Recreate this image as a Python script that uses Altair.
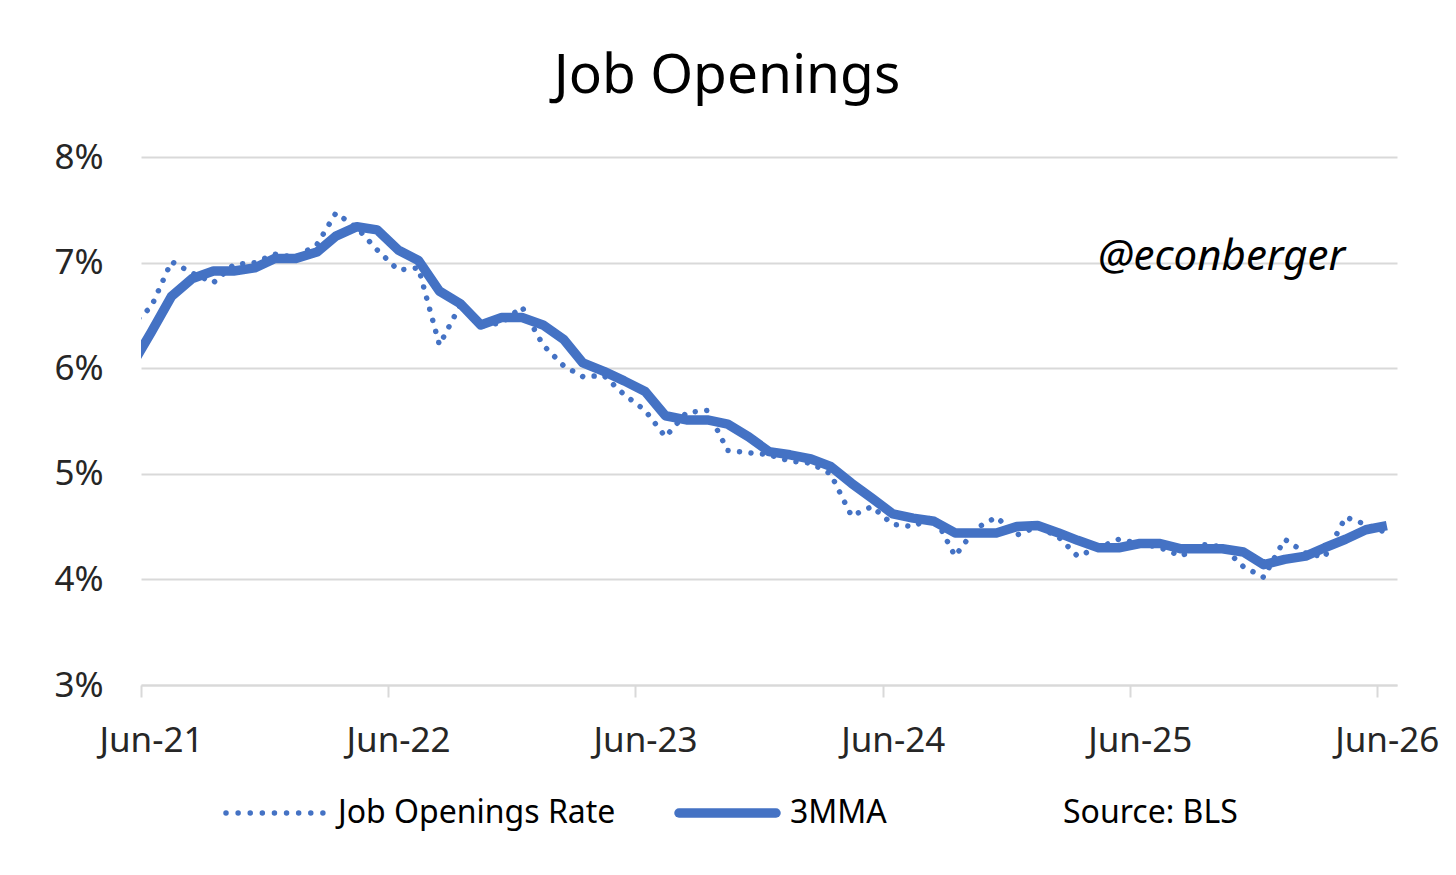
import altair as alt
import pandas as pd

# monthly observations, May-21 .. Jun-26 (first one sits just left of the axis and is clipped)
months = pd.date_range("2021-05-01", periods=62, freq="MS") + pd.Timedelta(days=15)

rate = [6.40, 6.58, 7.01, 6.90, 6.81, 6.98, 7.00, 7.08, 7.05, 7.17,
        7.47, 7.33, 7.12, 6.93, 6.95, 6.22, 6.60, 6.40, 6.43, 6.58,
        6.22, 6.02, 5.92, 5.93, 5.75, 5.60, 5.35, 5.58, 5.60, 5.22,
        5.20, 5.18, 5.12, 5.10, 5.00, 4.60, 4.69, 4.52, 4.50, 4.60,
        4.22, 4.48, 4.59, 4.42, 4.50, 4.40, 4.22, 4.30, 4.38, 4.34,
        4.30, 4.22, 4.33, 4.31, 4.12, 4.02, 4.38, 4.25, 4.21, 4.59,
        4.52, 4.44]

mma3 = [6.00, 6.34, 6.68, 6.85, 6.92, 6.92, 6.95, 7.04, 7.04, 7.10,
        7.25, 7.34, 7.31, 7.12, 7.02, 6.73, 6.61, 6.41, 6.48, 6.48,
        6.41, 6.27, 6.05, 5.97, 5.88, 5.78, 5.55, 5.51, 5.51, 5.47,
        5.35, 5.21, 5.18, 5.14, 5.07, 4.91, 4.77, 4.62, 4.58, 4.55,
        4.44, 4.44, 4.44, 4.50, 4.51, 4.44, 4.37, 4.30, 4.30, 4.34,
        4.34, 4.29, 4.29, 4.29, 4.26, 4.14, 4.19, 4.22, 4.30, 4.38,
        4.47, 4.51]

y_ticks = [3, 4, 5, 6, 7, 8]
tick_years = [2021, 2022, 2023, 2024, 2025, 2026]

BLUE = "#4472C4"
GRID = "#d9d9d9"
FONT = "Noto Sans"

df = pd.DataFrame({"month": months, "rate": rate, "mma": mma3})

x = alt.X("month:T", title=None,
          scale=alt.Scale(domain=[alt.DateTime(year=2021, month=6, date=1),
                                  alt.DateTime(year=2026, month=7, date=1)]),
          axis=alt.Axis(values=[alt.DateTime(year=yr, month=6, date=1) for yr in tick_years],
                        format="%b-%y", grid=False,
                        domainColor=GRID, domainWidth=2,
                        tickColor=GRID, tickWidth=2, tickSize=12,
                        labelFont=FONT, labelFontSize=35, labelColor="#262626",
                        labelOffset=10, labelBaseline="alphabetic", labelPadding=54,
                        labelFlush=False, labelOverlap=False))

y_scale = alt.Scale(domain=[3, 8], nice=False, zero=False)
y_axis = alt.Axis(values=y_ticks, labelExpr="datum.value + '%'",
                  grid=True, gridColor=GRID, gridWidth=2,
                  domain=False, ticks=False,
                  labelFont=FONT, labelFontSize=35, labelColor="#262626",
                  labelPadding=38)

base = alt.Chart(df)

dotted = base.mark_line(color=BLUE, strokeWidth=5.5, strokeDash=[0.01, 11.5],
                        strokeCap="round", clip=True).encode(
    x=x, y=alt.Y("rate:Q", title=None, scale=y_scale, axis=y_axis))

avg = base.mark_line(color=BLUE, strokeWidth=9.5, strokeJoin="round", clip=True).encode(
    x=x, y=alt.Y("mma:Q", scale=y_scale))

one = pd.DataFrame({"a": [0]})

title = alt.Chart(one).mark_text(text="Job Openings", font=FONT, fontSize=55,
                                 color="black", align="center", baseline="alphabetic").encode(
    x=alt.value(586), y=alt.value(-64))

handle = alt.Chart(one).mark_text(text="@econberger", font=FONT, fontSize=42,
                                  fontStyle="italic", color="black",
                                  align="left", baseline="alphabetic").encode(
    x=alt.value(957), y=alt.value(113))

leg_dot = alt.Chart(one).mark_rule(color=BLUE, strokeWidth=5.5, strokeDash=[0.01, 12.1],
                                   strokeCap="round").encode(
    x=alt.value(85), x2=alt.value(183), y=alt.value(656))

leg_line = alt.Chart(one).mark_rule(color=BLUE, strokeWidth=9.5, strokeCap="round").encode(
    x=alt.value(538), x2=alt.value(635), y=alt.value(656))

leg_text = alt.Chart(pd.DataFrame({"label": ["Job Openings Rate", "3MMA", "Source: BLS"],
                                   "px": [197, 649, 922]})).mark_text(
    font=FONT, fontSize=32, color="black", align="left", baseline="middle").encode(
    x=alt.X("px:Q", scale=None), y=alt.value(656), text="label:N")

chart = alt.layer(dotted, avg, title, handle, leg_dot, leg_line, leg_text).properties(
    width=1256, height=528,
    autosize=alt.AutoSizeParams(type="none"),
    padding={"left": 133, "top": 149, "right": 51, "bottom": 175},
    background="white",
).configure_view(stroke=None)

chart.save("out.html", embed_options={"renderer": "svg", "actions": False})
